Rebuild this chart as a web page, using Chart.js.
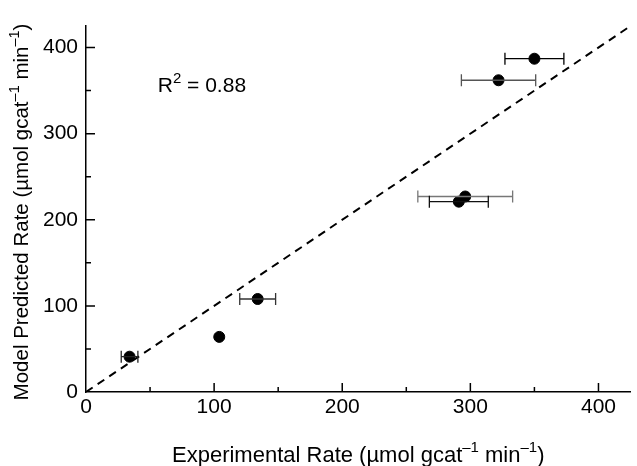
<!DOCTYPE html>
<html>
<head>
<meta charset="utf-8">
<script src="https://cdn.jsdelivr.net/npm/chart.js@4.4.1/dist/chart.umd.min.js"></script>
<style>
  html, body { margin: 0; padding: 0; background: #fff; }
  #wrap { width: 637px; height: 466px; }
</style>
</head>
<body>
<div id="wrap"><canvas id="mainChart" width="637" height="466"></canvas></div>
<script>
// Data
const expRate = [350, 322, 296, 291, 134, 104, 34];
const predRate = [387, 362, 227, 221, 108, 64, 41];
const expErr = [23, 29, 37, 23, 14, 0, 6.5];
const majorTicks = [0, 100, 200, 300, 400];
const minorTicks = [50, 150, 250, 350];
const parityLine = [0, 425];
const rSquared = '0.88';

const errColors = ['#000', '#555', '#777', '#111', '#333', '#000', '#222'];
const FONT = '"Liberation Sans", Arial, sans-serif';

// Draws text pieces where some are superscripts, centred on x
function richText(ctx, parts, x, y, size, supSize) {
    let total = 0;
    parts.forEach(p => {
        ctx.font = `${p.sup ? supSize : size}px ${FONT}`;
        p.w = ctx.measureText(p.t).width;
        total += p.w;
    });
    let cx = x - total / 2;
    ctx.textAlign = 'left';
    ctx.textBaseline = 'alphabetic';
    parts.forEach(p => {
        ctx.font = `${p.sup ? supSize : size}px ${FONT}`;
        ctx.fillText(p.t, cx, p.sup ? y - size * 0.45 : y);
        cx += p.w;
    });
}

const unitParts = () => [
    { t: ' (\u00B5mol gcat' }, { t: '\u20131', sup: true },
    { t: ' min' }, { t: '\u20131', sup: true }, { t: ')' }
];

const extras = {
    id: 'extras',
    afterDatasetsDraw(chart) {
        const ctx = chart.ctx;
        const xs = chart.scales.x, ys = chart.scales.y;
        ctx.save();

        // horizontal error bars
        expRate.forEach((v, i) => {
            if (!expErr[i]) return;
            const y = ys.getPixelForValue(predRate[i]);
            const x1 = xs.getPixelForValue(v - expErr[i]);
            const x2 = xs.getPixelForValue(v + expErr[i]);
            ctx.strokeStyle = errColors[i];
            ctx.lineWidth = 1.3;
            ctx.beginPath();
            ctx.moveTo(x1, y); ctx.lineTo(x2, y);
            ctx.moveTo(x1, y - 6); ctx.lineTo(x1, y + 6);
            ctx.moveTo(x2, y - 6); ctx.lineTo(x2, y + 6);
            ctx.stroke();
        });

        // inward tick marks
        const left = chart.chartArea.left, bottom = chart.chartArea.bottom;
        ctx.strokeStyle = '#000';
        ctx.lineWidth = 1.5;
        ctx.beginPath();
        majorTicks.forEach(v => {
            const px = xs.getPixelForValue(v), py = ys.getPixelForValue(v);
            if (v > 0) {
                ctx.moveTo(px, bottom); ctx.lineTo(px, bottom - 9);
                ctx.moveTo(left, py); ctx.lineTo(left + 9, py);
            }
        });
        minorTicks.forEach(v => {
            const px = xs.getPixelForValue(v), py = ys.getPixelForValue(v);
            ctx.moveTo(px, bottom); ctx.lineTo(px, bottom - 5);
            ctx.moveTo(left, py); ctx.lineTo(left + 5, py);
        });
        ctx.stroke();

        // R^2 annotation
        ctx.fillStyle = '#000';
        ctx.textAlign = 'left';
        ctx.textBaseline = 'alphabetic';
        const ax = xs.getPixelForValue(56), ay = ys.getPixelForValue(348);
        ctx.font = `21px ${FONT}`;
        ctx.fillText('R', ax, ay);
        const rw = ctx.measureText('R').width;
        ctx.font = `15px ${FONT}`;
        ctx.fillText('2', ax + rw, ay - 9);
        const sw = ctx.measureText('2').width;
        ctx.font = `21px ${FONT}`;
        ctx.fillText(' = ' + rSquared, ax + rw + sw, ay);

        // axis titles
        const midX = (chart.chartArea.left + chart.chartArea.right) / 2;
        const midY = (chart.chartArea.top + chart.chartArea.bottom) / 2;
        richText(ctx, [{ t: 'Experimental Rate' }].concat(unitParts()), midX, 462, 22, 15);

        ctx.translate(28, midY + 3);
        ctx.rotate(-Math.PI / 2);
        richText(ctx, [{ t: 'Model Predicted Rate' }].concat(unitParts()), 0, 0, 20.5, 14.5);
        ctx.restore();
    }
};

const ctx = document.getElementById('mainChart').getContext('2d');
new Chart(ctx, {
    type: 'scatter',
    data: {
        datasets: [
            {
                label: 'Parity',
                data: parityLine.map(v => ({ x: v, y: v })),
                showLine: true,
                borderColor: '#000',
                borderWidth: 2,
                borderDash: [8, 6],
                pointRadius: 0,
                fill: false
            },
            {
                label: 'Rates',
                data: expRate.map((v, i) => ({ x: v, y: predRate[i] })),
                backgroundColor: '#000',
                borderColor: '#000',
                pointRadius: 5.5,
                pointHoverRadius: 5.5
            }
        ]
    },
    options: {
        responsive: false,
        animation: false,
        events: [],
        layout: { padding: { top: 26, right: 2, left: 0, bottom: 0 } },
        plugins: {
            legend: { display: false },
            tooltip: { enabled: false }
        },
        scales: {
            x: {
                type: 'linear',
                min: 0,
                max: 425,
                afterBuildTicks: s => { s.ticks = majorTicks.map(v => ({ value: v })); },
                afterFit: s => { s.height = 74; },
                grid: { display: false, drawTicks: false },
                border: { display: true, color: '#000', width: 1.5 },
                ticks: { color: '#000', padding: 3, maxRotation: 0, font: { family: FONT, size: 21 } }
            },
            y: {
                type: 'linear',
                min: 0,
                max: 425,
                afterBuildTicks: s => { s.ticks = majorTicks.map(v => ({ value: v })); },
                afterFit: s => { s.width = 86; },
                grid: { display: false, drawTicks: false },
                border: { display: true, color: '#000', width: 1.5 },
                ticks: { color: '#000', padding: 8, font: { family: FONT, size: 21 } }
            }
        }
    },
    plugins: [extras]
});
</script>
</body>
</html>
